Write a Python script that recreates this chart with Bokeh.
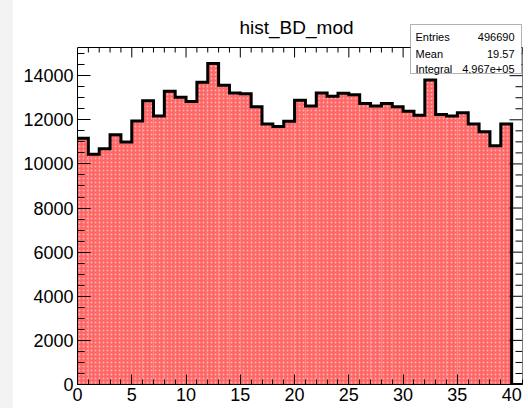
import math

from bokeh.plotting import figure
from bokeh.layouts import row
from bokeh.models import (Range1d, LinearAxis, SingleIntervalTicker, Label,
                          BoxAnnotation, ColumnDataSource, Span, Spacer)
from bokeh.embed import file_html
from bokeh.resources import INLINE

# histogram contents, one bin of width 1 per lower edge
bin_lo = list(range(0, 41))
counts = [11160, 10440, 10690, 11320, 10990, 11940, 12860, 12170, 13290, 13020,
          12830, 13700, 14550, 13570, 13220, 13180, 12590, 11810, 11700, 11930,
          12890, 12620, 13220, 13070, 13200, 13140, 12740, 12620, 12740, 12590,
          12390, 12210, 13800, 12240, 12170, 12320, 11810, 11460, 10820, 11810, 0]
bin_width = 1

title_text = "hist_BD_mod"
stat_names = ["Entries", "Mean", "Integral"]
stat_values = ["496690", "19.57", "4.967e+05"]

FONT = "Liberation Sans"
STRIP = 13                      # grey page margin on the left
W, H = 528 - STRIP, 408
BORDER_L, BORDER_B = 64, 24     # space for the tick labels
PAD_TOP = 47                    # title / stats area above the histogram frame
FRAME_H = H - BORDER_B          # the plotting area reaches the top of the canvas

x_lo, x_hi = bin_lo[0], bin_lo[-1] + bin_width
y_max = 1.05 * max(counts)                       # top of the histogram frame
y_top = y_max * FRAME_H / (FRAME_H - PAD_TOP)    # top of the canvas

bins = ColumnDataSource(dict(
    left=bin_lo,
    right=[b + bin_width for b in bin_lo],
    top=counts,
))

step_x = [e for b in bin_lo for e in (b, b + bin_width)]
step_y = [c for c in counts for _ in (0, 1)]

p = figure(width=W, height=H, output_backend="svg", toolbar_location=None,
           x_range=Range1d(x_lo, x_hi), y_range=Range1d(0, y_top),
           x_axis_type=None, y_axis_type=None, title=None,
           min_border_left=BORDER_L, min_border_right=528 - 522,
           min_border_top=0, min_border_bottom=BORDER_B)
p.background_fill_color = "white"
p.border_fill_color = "white"
p.outline_line_color = None

x_ticker = SingleIntervalTicker(interval=5, num_minor_ticks=5)
y_ticker = SingleIntervalTicker(interval=2000, num_minor_ticks=4)

bottom = LinearAxis(ticker=x_ticker)
left = LinearAxis(ticker=y_ticker, bounds=(0, y_max))
for ax, major, minor in ((bottom, 10, 5), (left, 13, 7)):
    ax.axis_line_color = "black"
    ax.major_tick_line_color = "black"
    ax.minor_tick_line_color = "black"
    ax.major_tick_in = major
    ax.major_tick_out = 0
    ax.minor_tick_in = minor
    ax.minor_tick_out = 0
    ax.major_label_text_font = FONT
    ax.major_label_text_font_size = "18px"
    ax.major_label_text_color = "black"
bottom.major_label_standoff = 3
left.major_label_standoff = 4
p.add_layout(bottom, "below")
p.add_layout(left, "left")

# filled bins
p.quad(left="left", right="right", bottom=0, top="top", source=bins,
       fill_color="#ff5555", fill_alpha=0.9, line_color=None,
       hatch_pattern="dot", hatch_color="white", hatch_scale=4,
       hatch_weight=1, hatch_alpha=0.5)

# histogram outline
p.line(step_x, step_y, line_color="black", line_width=3, line_join="miter")

# dotted grid at the major ticks, drawn over the filled bins
p.xgrid.ticker = x_ticker
p.ygrid.ticker = y_ticker
p.xgrid.cross_bounds = (0, y_max)
for g in (p.xgrid, p.ygrid):
    g.grid_line_color = "black"
    g.grid_line_alpha = 0.75
    g.grid_line_dash = "1 2"
    g.grid_line_width = 1
    g.level = "annotation"

# top and right edges of the frame with inward ticks
p.add_layout(Span(location=y_max, dimension="width", line_color="black",
                  line_width=1))
p.segment(x0=[x_hi], y0=[0], x1=[x_hi], y1=[y_max], line_color="black",
          line_width=1)

top_major = list(range(x_lo, x_hi, 5))
top_minor = [v for v in range(x_lo, x_hi + 1) if v % 5]
right_major = list(range(0, int(y_max), 2000))
right_minor = [v for v in range(0, int(y_max), 500) if v % 2000]

p.ray(x=top_major, y=y_max, length=10, length_units="screen",
      angle=-math.pi / 2, line_color="black", line_width=1)
p.ray(x=top_minor, y=y_max, length=5, length_units="screen",
      angle=-math.pi / 2, line_color="black", line_width=1)
p.ray(x=x_hi, y=right_major, length=13, length_units="screen",
      angle=math.pi, line_color="black", line_width=1)
p.ray(x=x_hi, y=right_minor, length=7, length_units="screen",
      angle=math.pi, line_color="black", line_width=1)

# title
p.add_layout(Label(x=296 - STRIP, y=26.5, x_units="canvas", y_units="canvas",
                   text=title_text, text_font=FONT, text_font_size="19px",
                   text_align="center", text_baseline="alphabetic",
                   text_color="black"))

# statistics box
p.add_layout(BoxAnnotation(left=410 - STRIP, right=521 - STRIP, top=24, bottom=73,
                           left_units="canvas", right_units="canvas",
                           top_units="canvas", bottom_units="canvas",
                           fill_color="white", fill_alpha=1,
                           line_color="black", line_width=1, level="overlay"))
row_y = [36, 53, 68]
for name, val, ry in zip(stat_names, stat_values, row_y):
    p.add_layout(Label(x=415 - STRIP, y=ry, x_units="canvas", y_units="canvas",
                       text=name, text_font=FONT, text_font_size="11px",
                       text_align="left", text_baseline="alphabetic",
                       text_color="black", level="overlay"))
    p.add_layout(Label(x=514 - STRIP, y=ry, x_units="canvas", y_units="canvas",
                       text=val, text_font=FONT, text_font_size="11px",
                       text_align="right", text_baseline="alphabetic",
                       text_color="black", level="overlay"))

strip = Spacer(width=STRIP, height=H, styles={"background-color": "#f3f3f3"})
layout = row(strip, p, spacing=0)

open("out.html", "w").write(file_html(layout, INLINE))
